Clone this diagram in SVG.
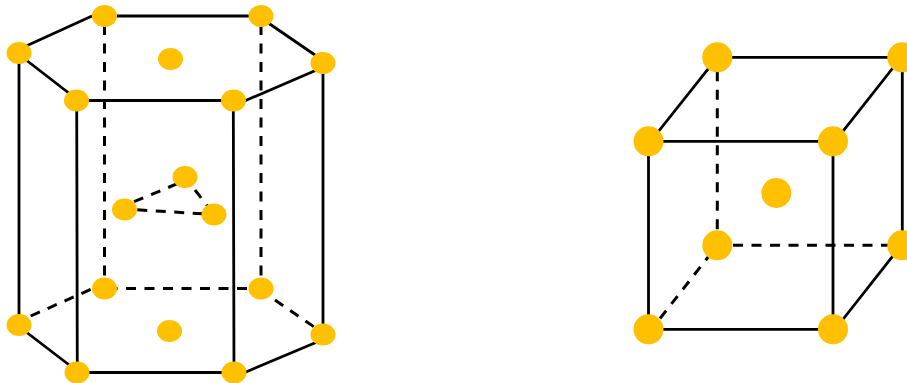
<svg xmlns="http://www.w3.org/2000/svg" width="907" height="383" viewBox="0 0 907 383">
<style>
.s{stroke:#000;stroke-width:2.8;fill:none}
.d{stroke:#000;stroke-width:3;fill:none;stroke-dasharray:10 8.500}
.h{fill:#ffc000}
</style>
<rect width="907" height="383" fill="#fff"/>
<g id="connectors">
<path class="s" d="M19 49.300L92 16M92 16H261M261 18L323 60.500M76.500 100.500H233.500M233.500 105.700L323 67.300M19 54.500L76.500 99"/>
<path class="s" d="M19 53V325M76.700 100.500L77.300 372.500M233.300 100.500L234 372.500M323 63V334.500"/>
<path class="s" d="M19 326.500L77 371M77 372.500H234M234 377L323 339.500"/>
<path class="d" d="M104.500 25V288M261 25V288M107.500 288.500H261M30.700 316L104.500 283.300M275 300L323 333"/>
<path class="d" d="M134 201.700L185 180.500M195 190L214 214.500M137.300 209.800L214 214.500"/>
<path class="s" d="M648.500 144L717.300 57.300M717.300 57.300H902.300M833 143.900L902.300 56M648.500 141.300H833M648.500 141.300V329.300H833V141.300M902.300 57.300V245.300M833 332L902.300 244"/>
<path class="d" d="M717.300 71.300V245.300M733 245.300H902.300M660 318.500L717.300 245.300"/>
</g>
<g id="hex-top-1"><ellipse class="h" cx="19" cy="53" rx="12.500" ry="11"/></g>
<g id="hex-top-2"><ellipse class="h" cx="104.500" cy="16" rx="12.500" ry="11"/></g>
<g id="hex-top-3"><ellipse class="h" cx="261" cy="16" rx="12.500" ry="11"/></g>
<g id="hex-top-4"><ellipse class="h" cx="323" cy="63" rx="12.500" ry="11"/></g>
<g id="hex-top-5"><ellipse class="h" cx="233.500" cy="100.500" rx="12.500" ry="11"/></g>
<g id="hex-top-6"><ellipse class="h" cx="76.500" cy="100.500" rx="12.500" ry="11"/></g>
<g id="hex-top-center"><ellipse class="h" cx="170.500" cy="59" rx="12.500" ry="11"/></g>
<g id="hex-mid-1"><ellipse class="h" cx="185" cy="177" rx="12.500" ry="11"/></g>
<g id="hex-mid-2"><ellipse class="h" cx="124.500" cy="209.500" rx="12.500" ry="11"/></g>
<g id="hex-mid-3"><ellipse class="h" cx="214" cy="214.500" rx="12.500" ry="11"/></g>
<g id="hex-bot-1"><ellipse class="h" cx="19" cy="325" rx="12.500" ry="11"/></g>
<g id="hex-bot-2"><ellipse class="h" cx="104.500" cy="288.500" rx="12.500" ry="11"/></g>
<g id="hex-bot-3"><ellipse class="h" cx="261" cy="288.500" rx="12.500" ry="11"/></g>
<g id="hex-bot-4"><ellipse class="h" cx="323" cy="334.500" rx="12.500" ry="11"/></g>
<g id="hex-bot-5"><ellipse class="h" cx="234" cy="372.500" rx="12.500" ry="11"/></g>
<g id="hex-bot-6"><ellipse class="h" cx="77" cy="372.500" rx="12.500" ry="11"/></g>
<g id="hex-bot-center"><ellipse class="h" cx="169.500" cy="331" rx="12.500" ry="11"/></g>
<g id="cube-1"><circle class="h" cx="717.300" cy="57.300" r="15"/></g>
<g id="cube-2"><circle class="h" cx="902.300" cy="57.300" r="15"/></g>
<g id="cube-3"><circle class="h" cx="648.500" cy="141.300" r="15"/></g>
<g id="cube-4"><circle class="h" cx="833" cy="141.300" r="15"/></g>
<g id="cube-5"><circle class="h" cx="717.300" cy="245.300" r="15"/></g>
<g id="cube-6"><circle class="h" cx="902.300" cy="245.300" r="15"/></g>
<g id="cube-7"><circle class="h" cx="648.500" cy="329.300" r="15"/></g>
<g id="cube-8"><circle class="h" cx="833" cy="329.300" r="15"/></g>
<g id="cube-center"><circle class="h" cx="776.300" cy="193" r="15"/></g>
</svg>
